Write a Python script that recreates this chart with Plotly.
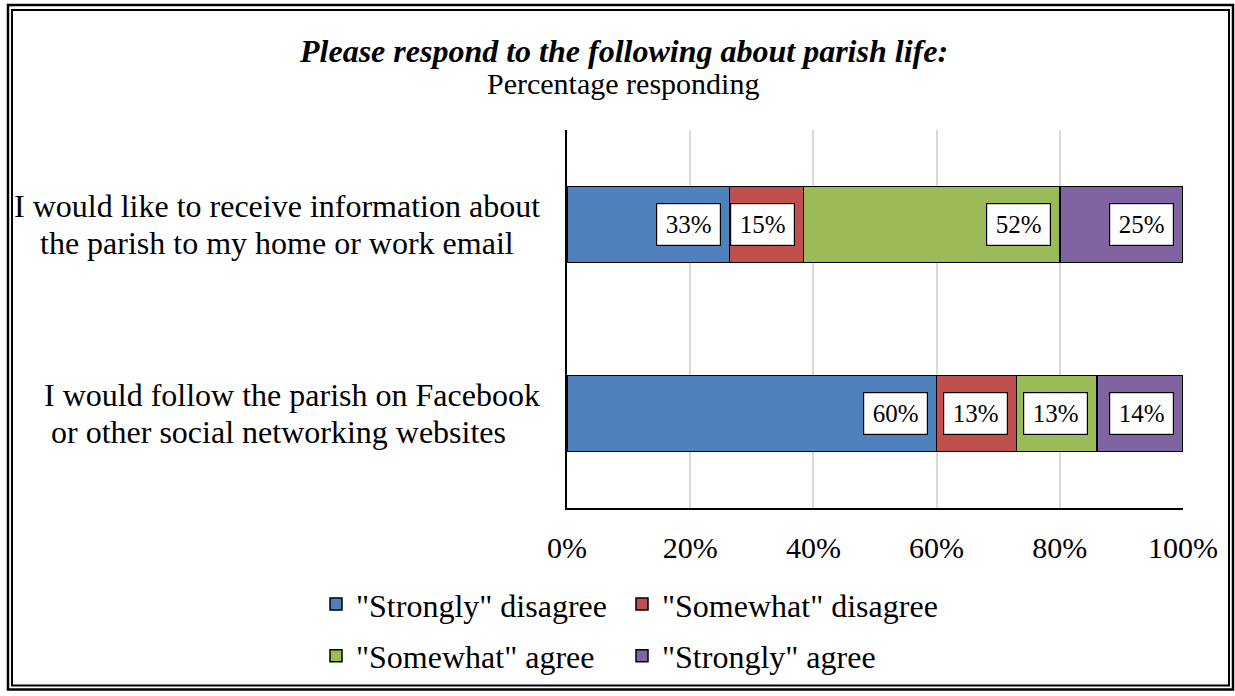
import plotly.graph_objects as go

# Survey items (top item first on the chart)
items = [
    "I would like to receive information about<br>the parish to my home or work email",
    "I would follow the parish on Facebook<br>or other social networking websites",
]
series_names = ['"Strongly" disagree', '"Somewhat" disagree', '"Somewhat" agree', '"Strongly" agree']
strongly_disagree = [33, 60]
somewhat_disagree = [15, 13]
somewhat_agree = [52, 13]
strongly_agree = [25, 14]
colors = ["#4F81BD", "#C0504D", "#9BBB59", "#8064A2"]
tick_vals = [0, 20, 40, 60, 80, 100]
tick_text = ["0%", "20%", "40%", "60%", "80%", "100%"]

series = [strongly_disagree, somewhat_disagree, somewhat_agree, strongly_agree]
FONT = "Liberation Serif"

# layout geometry (pixels)
W, H = 1235, 696
ML, MR, MT, MB = 567, 52, 130, 185
PW, PH = W - ML - MR, H - MT - MB


def px_x(p):
    return (p - ML) / PW


def px_y(p):
    return 1 - (p - MT) / PH


fig = go.Figure()
for k, (name, vals, col) in enumerate(zip(series_names, series, colors)):
    fig.add_trace(go.Bar(
        y=items, x=vals, name=name, orientation="h",
        marker=dict(color=col, line=dict(color="black", width=1.5)),
        hoverinfo="name+x",
        legend="legend" if k < 2 else "legend2",
        # legend: first column has a fixed width, second column fits its text
        legendwidth=261 if k % 2 == 0 else 300,
    ))

# boxed value labels near the inner end of each segment
annotations = []
for i, item in enumerate(items):
    total = sum(s[i] for s in series)
    cum = 0
    for s in series:
        cum += s[i]
        annotations.append(dict(
            x=cum / total * 100, y=item, xref="x", yref="y",
            text=f"{s[i]}%", showarrow=False, xanchor="right", yanchor="middle",
            xshift=-9, font=dict(family=FONT, size=25, color="black"),
            bgcolor="white", bordercolor="black", borderwidth=1.2,
            borderpad=3, width=57, height=35,
        ))

# category labels: each line centred, placed left of the plot area
line_centres = [[277, 277], [292, 278]]
line_offsets = [-18.5, 18.5]
for item, centres in zip(items, line_centres):
    for line, cx, dy in zip(item.split("<br>"), centres, line_offsets):
        annotations.append(dict(
            x=px_x(cx), y=item, xref="paper", yref="y", text=line,
            showarrow=False, xanchor="center", yanchor="middle", yshift=-dy,
            font=dict(family=FONT, size=32, color="black"),
        ))

# title and subtitle
annotations.append(dict(
    x=px_x(623), y=px_y(50), xref="paper", yref="paper",
    text="<b><i>Please respond to the following about parish life:</i></b>",
    showarrow=False, xanchor="center", yanchor="middle",
    font=dict(family=FONT, size=32, color="black"),
))
annotations.append(dict(
    x=px_x(623), y=px_y(83), xref="paper", yref="paper",
    text="Percentage responding", showarrow=False, xanchor="center", yanchor="middle",
    font=dict(family=FONT, size=30, color="black"),
))

# double frame around the whole chart
shapes = [
    dict(type="rect", xref="paper", yref="paper",
         x0=px_x(8), x1=px_x(1233), y0=px_y(4), y1=px_y(694),
         line=dict(color="black", width=2.5)),
    dict(type="rect", xref="paper", yref="paper",
         x0=px_x(12), x1=px_x(1229), y0=px_y(9), y1=px_y(690),
         line=dict(color="black", width=2)),
]

legend_style = dict(
    orientation="h", xanchor="left", yanchor="middle",
    font=dict(family=FONT, size=32, color="black"),
    entrywidthmode="pixels", traceorder="normal",
    itemwidth=30, bgcolor="rgba(0,0,0,0)",
)

fig.update_layout(
    width=W, height=H,
    margin=dict(l=ML, r=MR, t=MT, b=MB),
    barmode="stack", barnorm="percent", bargap=0.6,
    paper_bgcolor="white", plot_bgcolor="white",
    font=dict(family=FONT, size=28, color="black"),
    showlegend=True,
    legend=dict(x=px_x(316), y=px_y(608), **legend_style),
    legend2=dict(x=px_x(316), y=px_y(660), **legend_style),
    annotations=annotations,
    shapes=shapes,
)
fig.update_xaxes(
    range=[0, 100], tickvals=tick_vals, ticktext=tick_text,
    showgrid=True, gridcolor="#D9D9D9", gridwidth=1.5,
    showline=True, linecolor="black", linewidth=2,
    zeroline=False, ticks="", ticklabelstandoff=12,
    tickfont=dict(family=FONT, size=30, color="black"),
)
fig.update_yaxes(
    autorange="reversed", showticklabels=False,
    showline=True, linecolor="black", linewidth=2,
    showgrid=False, zeroline=False, ticks="",
)

fig.write_html("out.html")
